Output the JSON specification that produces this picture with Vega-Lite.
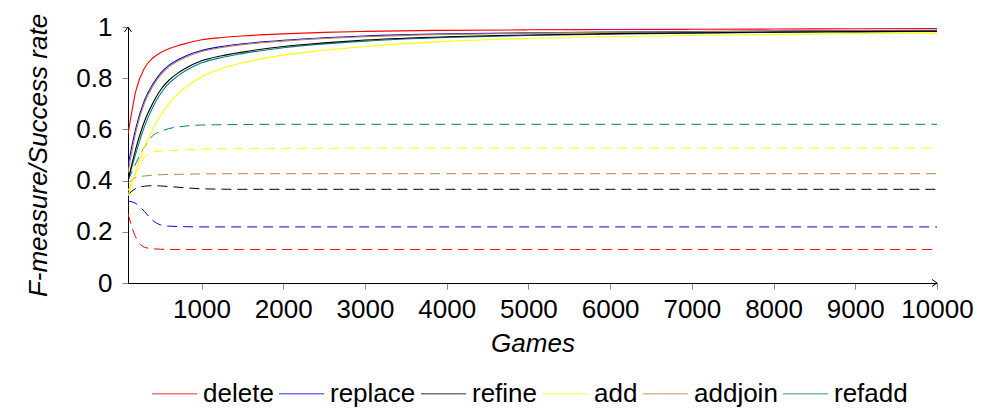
{
  "$schema": "https://vega.github.io/schema/vega-lite/v6.json",
  "autosize": {"type": "none"},
  "width": 809,
  "height": 256,
  "padding": {"left": 128, "top": 27, "right": 56, "bottom": 129},
  "background": "white",
  "config": {
    "font": "Liberation Sans",
    "view": {"stroke": null},
    "axis": {"grid": false, "domainColor": "black", "domainWidth": 1, "tickColor": "#888888", "tickSize": 6, "labelFontSize": 26, "labelColor": "black", "labelFont": "Liberation Sans", "titleFont": "Liberation Sans", "titleFontSize": 26, "titleFontWeight": "normal", "titleFontStyle": "italic", "titleColor": "black", "labelOverlap": false, "labelBound": false, "labelFlush": false}
  },
  "resolve": {"legend": {"color": "independent"}},
  "datasets": {
    "solid": [
      {"g":100,"s":"delete","v":0.58},{"g":200,"s":"delete","v":0.755},{"g":300,"s":"delete","v":0.838},{"g":400,"s":"delete","v":0.878},{"g":500,"s":"delete","v":0.9},{"g":600,"s":"delete","v":0.915},{"g":700,"s":"delete","v":0.926},{"g":800,"s":"delete","v":0.935},{"g":1000,"s":"delete","v":0.95},{"g":1250,"s":"delete","v":0.959},{"g":1500,"s":"delete","v":0.965},{"g":2000,"s":"delete","v":0.973},{"g":2500,"s":"delete","v":0.979},{"g":3000,"s":"delete","v":0.983},{"g":4000,"s":"delete","v":0.987},{"g":5000,"s":"delete","v":0.989},{"g":6000,"s":"delete","v":0.99},{"g":7000,"s":"delete","v":0.991},{"g":8000,"s":"delete","v":0.992},{"g":9000,"s":"delete","v":0.993},{"g":10000,"s":"delete","v":0.994},
      {"g":100,"s":"replace","v":0.46},{"g":200,"s":"replace","v":0.61},{"g":300,"s":"replace","v":0.712},{"g":400,"s":"replace","v":0.775},{"g":500,"s":"replace","v":0.82},{"g":600,"s":"replace","v":0.85},{"g":700,"s":"replace","v":0.87},{"g":800,"s":"replace","v":0.886},{"g":1000,"s":"replace","v":0.908},{"g":1250,"s":"replace","v":0.924},{"g":1500,"s":"replace","v":0.934},{"g":2000,"s":"replace","v":0.948},{"g":2500,"s":"replace","v":0.958},{"g":3000,"s":"replace","v":0.965},{"g":4000,"s":"replace","v":0.973},{"g":5000,"s":"replace","v":0.977},{"g":6000,"s":"replace","v":0.98},{"g":7000,"s":"replace","v":0.982},{"g":8000,"s":"replace","v":0.984},{"g":9000,"s":"replace","v":0.986},{"g":10000,"s":"replace","v":0.987},
      {"g":100,"s":"addjoin","v":0.43},{"g":200,"s":"addjoin","v":0.595},{"g":300,"s":"addjoin","v":0.702},{"g":400,"s":"addjoin","v":0.767},{"g":500,"s":"addjoin","v":0.813},{"g":600,"s":"addjoin","v":0.844},{"g":700,"s":"addjoin","v":0.865},{"g":800,"s":"addjoin","v":0.881},{"g":1000,"s":"addjoin","v":0.904},{"g":1250,"s":"addjoin","v":0.92},{"g":1500,"s":"addjoin","v":0.931},{"g":2000,"s":"addjoin","v":0.945},{"g":2500,"s":"addjoin","v":0.955},{"g":3000,"s":"addjoin","v":0.962},{"g":4000,"s":"addjoin","v":0.971},{"g":5000,"s":"addjoin","v":0.976},{"g":6000,"s":"addjoin","v":0.979},{"g":7000,"s":"addjoin","v":0.981},{"g":8000,"s":"addjoin","v":0.983},{"g":9000,"s":"addjoin","v":0.985},{"g":10000,"s":"addjoin","v":0.986},
      {"g":100,"s":"refadd","v":0.4},{"g":200,"s":"refadd","v":0.51},{"g":300,"s":"refadd","v":0.61},{"g":400,"s":"refadd","v":0.685},{"g":500,"s":"refadd","v":0.74},{"g":600,"s":"refadd","v":0.78},{"g":700,"s":"refadd","v":0.807},{"g":800,"s":"refadd","v":0.828},{"g":1000,"s":"refadd","v":0.86},{"g":1250,"s":"refadd","v":0.881},{"g":1500,"s":"refadd","v":0.896},{"g":2000,"s":"refadd","v":0.919},{"g":2500,"s":"refadd","v":0.934},{"g":3000,"s":"refadd","v":0.945},{"g":4000,"s":"refadd","v":0.959},{"g":5000,"s":"refadd","v":0.967},{"g":6000,"s":"refadd","v":0.972},{"g":7000,"s":"refadd","v":0.976},{"g":8000,"s":"refadd","v":0.979},{"g":9000,"s":"refadd","v":0.981},{"g":10000,"s":"refadd","v":0.983},
      {"g":100,"s":"refine","v":0.4},{"g":200,"s":"refine","v":0.53},{"g":300,"s":"refine","v":0.63},{"g":400,"s":"refine","v":0.7},{"g":500,"s":"refine","v":0.755},{"g":600,"s":"refine","v":0.792},{"g":700,"s":"refine","v":0.818},{"g":800,"s":"refine","v":0.838},{"g":1000,"s":"refine","v":0.868},{"g":1250,"s":"refine","v":0.888},{"g":1500,"s":"refine","v":0.902},{"g":2000,"s":"refine","v":0.924},{"g":2500,"s":"refine","v":0.938},{"g":3000,"s":"refine","v":0.949},{"g":4000,"s":"refine","v":0.962},{"g":5000,"s":"refine","v":0.969},{"g":6000,"s":"refine","v":0.974},{"g":7000,"s":"refine","v":0.977},{"g":8000,"s":"refine","v":0.98},{"g":9000,"s":"refine","v":0.982},{"g":10000,"s":"refine","v":0.984},
      {"g":100,"s":"add","v":0.34},{"g":200,"s":"add","v":0.44},{"g":300,"s":"add","v":0.53},{"g":400,"s":"add","v":0.6},{"g":500,"s":"add","v":0.655},{"g":600,"s":"add","v":0.7},{"g":700,"s":"add","v":0.735},{"g":800,"s":"add","v":0.763},{"g":1000,"s":"add","v":0.806},{"g":1250,"s":"add","v":0.838},{"g":1500,"s":"add","v":0.86},{"g":2000,"s":"add","v":0.89},{"g":2500,"s":"add","v":0.909},{"g":3000,"s":"add","v":0.924},{"g":4000,"s":"add","v":0.944},{"g":5000,"s":"add","v":0.955},{"g":6000,"s":"add","v":0.962},{"g":7000,"s":"add","v":0.967},{"g":8000,"s":"add","v":0.971},{"g":9000,"s":"add","v":0.974},{"g":10000,"s":"add","v":0.976}
    ],
    "dashed": [
      {"g":100,"s":"delete","v":0.27},{"g":200,"s":"delete","v":0.175},{"g":300,"s":"delete","v":0.14},{"g":400,"s":"delete","v":0.134},{"g":500,"s":"delete","v":0.132},{"g":600,"s":"delete","v":0.131},{"g":800,"s":"delete","v":0.131},{"g":1000,"s":"delete","v":0.131},{"g":1500,"s":"delete","v":0.131},{"g":2000,"s":"delete","v":0.131},{"g":4000,"s":"delete","v":0.131},{"g":6000,"s":"delete","v":0.131},{"g":8000,"s":"delete","v":0.131},{"g":10000,"s":"delete","v":0.131},
      {"g":100,"s":"replace","v":0.32},{"g":200,"s":"replace","v":0.31},{"g":300,"s":"replace","v":0.28},{"g":400,"s":"replace","v":0.245},{"g":500,"s":"replace","v":0.227},{"g":600,"s":"replace","v":0.222},{"g":800,"s":"replace","v":0.22},{"g":1000,"s":"replace","v":0.219},{"g":1500,"s":"replace","v":0.219},{"g":2000,"s":"replace","v":0.219},{"g":4000,"s":"replace","v":0.219},{"g":6000,"s":"replace","v":0.219},{"g":8000,"s":"replace","v":0.219},{"g":10000,"s":"replace","v":0.219},
      {"g":100,"s":"refine","v":0.345},{"g":200,"s":"refine","v":0.37},{"g":300,"s":"refine","v":0.378},{"g":400,"s":"refine","v":0.38},{"g":500,"s":"refine","v":0.379},{"g":600,"s":"refine","v":0.377},{"g":800,"s":"refine","v":0.372},{"g":1000,"s":"refine","v":0.368},{"g":1500,"s":"refine","v":0.366},{"g":2000,"s":"refine","v":0.366},{"g":4000,"s":"refine","v":0.366},{"g":6000,"s":"refine","v":0.366},{"g":8000,"s":"refine","v":0.366},{"g":10000,"s":"refine","v":0.366},
      {"g":100,"s":"add","v":0.36},{"g":200,"s":"add","v":0.43},{"g":300,"s":"add","v":0.49},{"g":400,"s":"add","v":0.512},{"g":500,"s":"add","v":0.515},{"g":600,"s":"add","v":0.517},{"g":800,"s":"add","v":0.52},{"g":1000,"s":"add","v":0.523},{"g":1500,"s":"add","v":0.525},{"g":2000,"s":"add","v":0.526},{"g":4000,"s":"add","v":0.527},{"g":6000,"s":"add","v":0.527},{"g":8000,"s":"add","v":0.527},{"g":10000,"s":"add","v":0.527},
      {"g":100,"s":"addjoin","v":0.39},{"g":200,"s":"addjoin","v":0.412},{"g":300,"s":"addjoin","v":0.418},{"g":400,"s":"addjoin","v":0.421},{"g":500,"s":"addjoin","v":0.423},{"g":600,"s":"addjoin","v":0.424},{"g":800,"s":"addjoin","v":0.425},{"g":1000,"s":"addjoin","v":0.426},{"g":1500,"s":"addjoin","v":0.427},{"g":2000,"s":"addjoin","v":0.427},{"g":4000,"s":"addjoin","v":0.427},{"g":6000,"s":"addjoin","v":0.427},{"g":8000,"s":"addjoin","v":0.427},{"g":10000,"s":"addjoin","v":0.427},
      {"g":100,"s":"refadd","v":0.4},{"g":200,"s":"refadd","v":0.47},{"g":300,"s":"refadd","v":0.53},{"g":400,"s":"refadd","v":0.575},{"g":500,"s":"refadd","v":0.592},{"g":600,"s":"refadd","v":0.603},{"g":800,"s":"refadd","v":0.613},{"g":1000,"s":"refadd","v":0.617},{"g":1500,"s":"refadd","v":0.619},{"g":2000,"s":"refadd","v":0.62},{"g":4000,"s":"refadd","v":0.62},{"g":6000,"s":"refadd","v":0.62},{"g":8000,"s":"refadd","v":0.62},{"g":10000,"s":"refadd","v":0.62}
    ]
  },
  "layer": [
    {
      "data": {"name": "dashed"},
      "mark": {"type": "line", "strokeWidth": 1, "strokeDash": [10, 6], "interpolate": "monotone", "clip": true},
      "encoding": {
        "x": {"field": "g", "type": "quantitative", "scale": {"domain": [100, 10000], "nice": false, "zero": false},
          "axis": {"values": [1000,2000,3000,4000,5000,6000,7000,8000,9000,10000], "format": "d", "title": "Games", "labelPadding": 7, "titlePadding": 8}},
        "y": {"field": "v", "type": "quantitative", "scale": {"domain": [0, 1], "nice": false},
          "axis": {"values": [0,0.2,0.4,0.6,0.8,1], "format": "~g", "title": "F-measure/Success rate", "labelPadding": 10, "titlePadding": 24}},
        "color": {"field": "s", "type": "nominal", "legend": null,
          "scale": {"domain": ["delete","replace","refine","add","addjoin","refadd"], "range": ["#ff0000","#0000ff","#000000","#ffff00","#bf8040","#008080"]}},
        "detail": {"field": "s"}
      }
    },
    {
      "data": {"name": "solid"},
      "mark": {"type": "line", "strokeWidth": 1.1, "interpolate": "monotone", "clip": true},
      "encoding": {
        "x": {"field": "g", "type": "quantitative"},
        "y": {"field": "v", "type": "quantitative"},
        "color": {"field": "s", "type": "nominal",
          "legend": {"title": null, "orient": "none", "direction": "horizontal", "columns": 6, "legendX": 23, "legendY": 343,
            "symbolType": "stroke", "symbolSize": 2025, "symbolStrokeWidth": 1.5, "symbolOpacity": 0.55,
            "labelFont": "Liberation Sans", "labelFontSize": 26, "labelColor": "black", "labelOffset": 5, "columnPadding": 2, "labelLimit": 300}}
      }
    },
    {
      "data": {"values": [{}]},
      "mark": {"type": "point", "shape": "M -1 -0.7 L 0 0 L -1 0.7", "filled": false, "stroke": "black", "strokeWidth": 1, "size": 100, "opacity": 1},
      "encoding": {"x": {"datum": 10000}, "y": {"datum": 0}}
    },
    {
      "data": {"values": [{}]},
      "mark": {"type": "point", "shape": "M -0.7 1 L 0 0 L 0.7 1", "filled": false, "stroke": "black", "strokeWidth": 1, "size": 100, "opacity": 1},
      "encoding": {"x": {"datum": 100}, "y": {"datum": 1}}
    }
  ]
}
